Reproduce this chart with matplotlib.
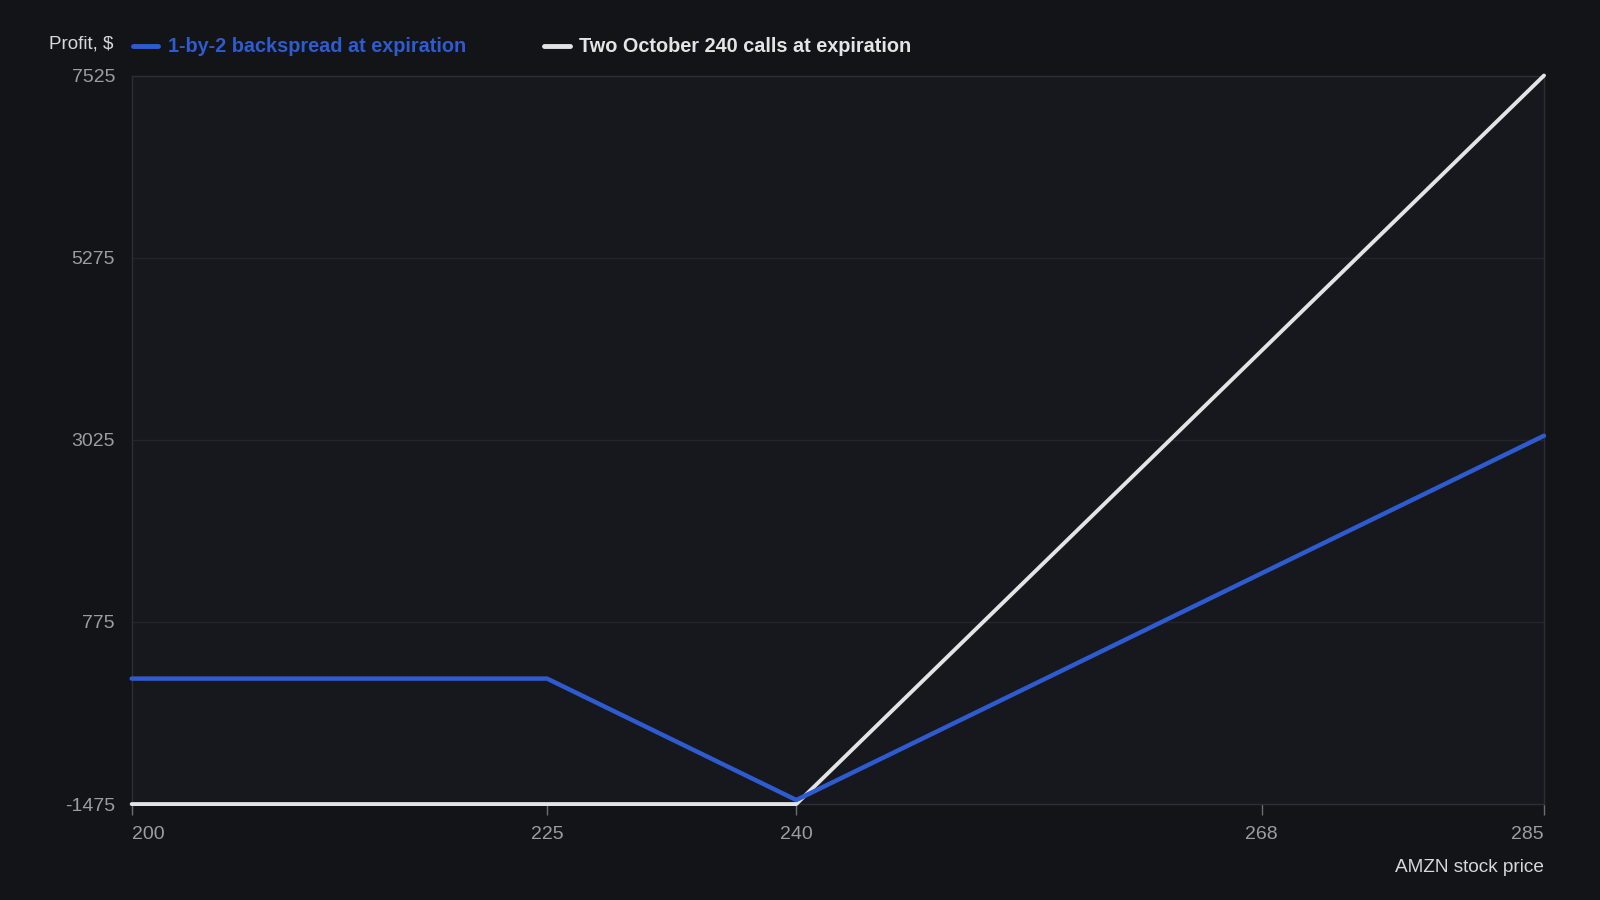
import numpy as np
import matplotlib.pyplot as plt

plt.rcParams['font.family'] = ['Liberation Sans', 'DejaVu Sans']

# stock price at expiration and profit for the two positions
price = [200, 225, 240, 285]
backspread = [75, 75, -1425, 3075]
two_calls = [-1475, -1475, -1475, 7525]

xticks = [200, 225, 240, 268, 285]
yticks = [-1475, 775, 3025, 5275, 7525]

bg = '#121418'
plot_bg = '#16181d'
blue = '#2f5bd1'
white = '#e4e4e4'
grid_c = '#22252b'
tick_c = '#9b9da3'

fig = plt.figure(figsize=(16, 9), dpi=100, facecolor=bg)
ax = fig.add_axes([0.0823, 0.1066, 0.8827, 0.8095])
ax.set_facecolor(plot_bg)

ax.plot(price, two_calls, color=white, lw=2.8, solid_capstyle='round', solid_joinstyle='round',
        zorder=3, clip_on=False)
ax.plot(price, backspread, color=blue, lw=3.2, solid_capstyle='round', solid_joinstyle='round',
        zorder=4, clip_on=False)

ax.set_xlim(200, 285)
ax.set_ylim(-1475, 7525)
ax.set_xticks(xticks)
ax.set_yticks(yticks)
ax.set_xticklabels([str(t) for t in xticks])
ax.set_yticklabels([str(t) for t in yticks])
labels = ax.get_xticklabels()
labels[0].set_ha('left')
labels[-1].set_ha('right')

ax.grid(axis='y', color=grid_c, lw=1)
for s in ['left', 'right', 'top', 'bottom']:
    ax.spines[s].set_color('#2a2e35')
    ax.spines[s].set_linewidth(1)
ax.tick_params(axis='x', colors='#6a6e75', labelcolor=tick_c, labelsize=14, length=8, width=1, pad=8)
ax.tick_params(axis='y', colors=tick_c, labelsize=14, length=0, pad=12)

fig.text(0.965, 0.036, 'AMZN stock price', ha='right', va='center', color='#d8d8d8', fontsize=13.7)
fig.text(0.0709, 0.951, 'Profit, $', ha='right', va='center', color='#d8d8d8', fontsize=13.5)

# legend entries in the header row
fig.add_artist(plt.Line2D([0.083, 0.099], [0.949, 0.949], color=blue, lw=3.5, solid_capstyle='round'))
fig.text(0.105, 0.948, '1-by-2 backspread at expiration', ha='left', va='center', color=blue,
         fontsize=14.3, fontweight='bold')
fig.add_artist(plt.Line2D([0.34, 0.356], [0.949, 0.949], color=white, lw=3.5, solid_capstyle='round'))
fig.text(0.362, 0.948, 'Two October 240 calls at expiration', ha='left', va='center', color=white,
         fontsize=14.3, fontweight='bold')

fig.savefig('out.png', dpi=100, facecolor=bg)
